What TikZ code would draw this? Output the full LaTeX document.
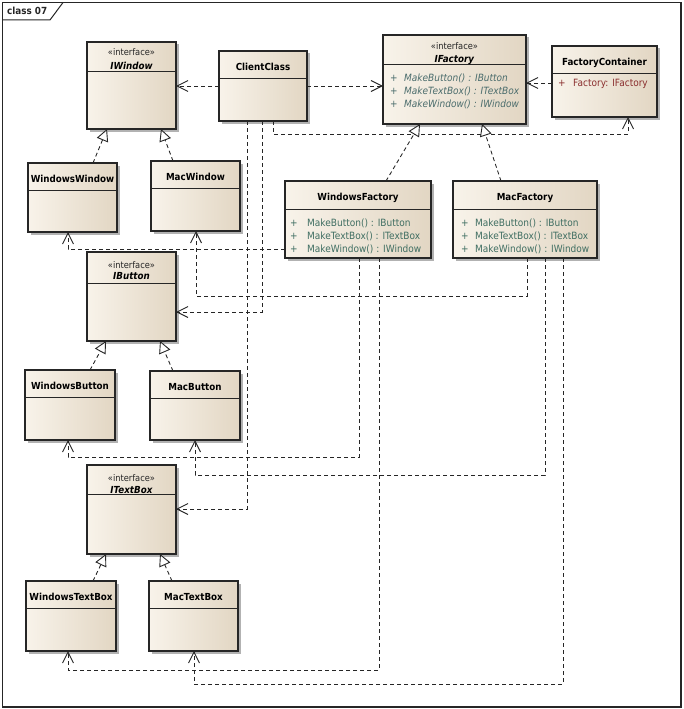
\documentclass[tikz,border=0pt]{standalone}
\usepackage{fontspec}
\setmainfont{DejaVu Sans}[FakeStretch=0.9]
\usetikzlibrary{arrows.meta,shadows,calc}
\definecolor{clsL}{HTML}{F8F3EA}
\definecolor{clsR}{HTML}{E2D6C3}
\definecolor{edge}{HTML}{262626}
\definecolor{opgreen}{HTML}{3F6E62}
\definecolor{opteal}{HTML}{4A6C6C}
\definecolor{attred}{HTML}{8A2E2E}
\newcommand\umlclass[6]{%
  \node[cls, minimum width={#4-#2}, minimum height={#5-#3}] (#1) at (#2,#3) {};
  \draw[sepline] (#2,#6) -- (#4,#6);}
\begin{document}
\begin{tikzpicture}[x=1pt,y=-1pt,
  cls/.style={draw=edge, line width=1.1pt, left color=clsL, right color=clsR,
    drop shadow={shadow xshift=2.5pt,shadow yshift=-2.5pt,opacity=0.3,fill=black},
    inner sep=0pt, outer sep=0pt, anchor=north west},
  sepline/.style={draw=edge, line width=1pt},
  nm/.style={font=\fontsize{9.7}{11}\selectfont\bfseries, inner sep=0pt, anchor=base},
  stereo/.style={font=\fontsize{9.2}{11}\selectfont, inner sep=0pt, anchor=base, text=black!85},
  op/.style={font=\fontsize{10}{12}\selectfont, inner sep=0pt, anchor=base west},
  dep/.style={draw=edge, line width=0.9pt, dash pattern=on 4pt off 3pt,
    -{Straight Barb[length=11pt,width=11pt,line width=0.9pt]}},
  real/.style={draw=edge, line width=0.9pt, dash pattern=on 4pt off 3pt,
    -{Triangle[open,fill=white,length=12pt,width=12pt,line width=0.9pt]}}
]
\useasboundingbox (0,0) rectangle (683,709);
% frame
\draw[line width=1.3pt, draw=black!85] (2.5,2.5) rectangle (681,707);
\draw[line width=1pt, draw=black!85] (2.5,20) -- (50,20) -- (63,2.5);
\node[font=\fontsize{9.8}{11}\selectfont\bfseries, inner sep=0pt, anchor=base west, text=black!85] (frame) at (7,14.5) {class 07};

% classes
\umlclass{IWindow}{87}{42}{176}{129}{71}
\node[stereo] (sIWindow) at (131.5,56) {«interface»};
\node[nm] (nIWindow) at (131.5,69.5) {\textit{IWindow}};

\umlclass{ClientClass}{219}{51}{307}{121}{78}
\node[nm] (nClientClass) at (263,70.5) {ClientClass};

\umlclass{IFactory}{383}{35}{526}{124}{65}
\node[stereo] (sIFactory) at (454.5,49) {«interface»};
\node[nm] (nIFactory) at (454.5,62.5) {\textit{IFactory}};
\node[op, text=opteal] (p1IFactory) at (390,81.5) {+};
\node[op, text=opteal] (o1IFactory) at (404,81.5) {\textit{MakeButton() : IButton}};
\node[op, text=opteal] (p2IFactory) at (390,94.5) {+};
\node[op, text=opteal] (o2IFactory) at (404,94.5) {\textit{MakeTextBox() : ITextBox}};
\node[op, text=opteal] (p3IFactory) at (390,107) {+};
\node[op, text=opteal] (o3IFactory) at (404,107) {\textit{MakeWindow() : IWindow}};

\umlclass{FactoryContainer}{552}{46}{657}{117}{73}
\node[nm] (nFactoryContainer) at (604.5,65.5) {FactoryContainer};
\node[op, text=attred] (pFC) at (558,86.5) {+};
\node[op, text=attred] (aFC) at (573,86.5) {Factory: IFactory};

\umlclass{WindowsWindow}{28}{163}{117}{232}{190}
\node[nm] (nWindowsWindow) at (72.5,182.5) {WindowsWindow};

\umlclass{MacWindow}{151}{161}{240}{231}{188}
\node[nm] (nMacWindow) at (195.5,180.5) {MacWindow};

\umlclass{WindowsFactory}{285}{181}{431}{258}{209}
\node[nm] (nWindowsFactory) at (358,200.5) {WindowsFactory};
\node[op, text=opgreen] (p1WF) at (290,226.5) {+};
\node[op, text=opgreen] (o1WF) at (307,226.5) {MakeButton() : IButton};
\node[op, text=opgreen] (p2WF) at (290,239.5) {+};
\node[op, text=opgreen] (o2WF) at (307,239.5) {MakeTextBox() : ITextBox};
\node[op, text=opgreen] (p3WF) at (290,252.5) {+};
\node[op, text=opgreen] (o3WF) at (307,252.5) {MakeWindow() : IWindow};

\umlclass{MacFactory}{453}{181}{597}{258}{209}
\node[nm] (nMacFactory) at (525,200.5) {MacFactory};
\node[op, text=opgreen] (p1MF) at (461,226.5) {+};
\node[op, text=opgreen] (o1MF) at (475,226.5) {MakeButton() : IButton};
\node[op, text=opgreen] (p2MF) at (461,239.5) {+};
\node[op, text=opgreen] (o2MF) at (475,239.5) {MakeTextBox() : ITextBox};
\node[op, text=opgreen] (p3MF) at (461,252.5) {+};
\node[op, text=opgreen] (o3MF) at (475,252.5) {MakeWindow() : IWindow};

\umlclass{IButton}{87}{252}{176}{341}{283}
\node[stereo] (sIButton) at (131.5,268) {«interface»};
\node[nm] (nIButton) at (131.5,279.5) {\textit{IButton}};

\umlclass{WindowsButton}{25}{370}{115}{440}{397}
\node[nm] (nWindowsButton) at (70,389.5) {WindowsButton};

\umlclass{MacButton}{150}{371}{240}{440}{398}
\node[nm] (nMacButton) at (195,390.5) {MacButton};

\umlclass{ITextBox}{87}{465}{176}{554}{494}
\node[stereo] (sITextBox) at (131.5,481) {«interface»};
\node[nm] (nITextBox) at (131.5,493.5) {\textit{ITextBox}};

\umlclass{WindowsTextBox}{26}{581}{116}{651}{608}
\node[nm] (nWindowsTextBox) at (71,600.5) {WindowsTextBox};

\umlclass{MacTextBox}{149}{581}{238}{651}{608}
\node[nm] (nMacTextBox) at (193.5,600.5) {MacTextBox};

% dependencies from ClientClass
\draw[dep] (ClientClass.west) -- (IWindow.east |- ClientClass.west);
\draw[dep] (ClientClass.east) -- (IFactory.west |- ClientClass.east);
\draw[dep] (FactoryContainer.west |- 0,83) -- (IFactory.east |- 0,83);
\draw[dep] (ClientClass.south -| 273,0) -- (273,134) -- (628,134) -- (FactoryContainer.south -| 628,0);
\draw[dep] (ClientClass.south -| 262,0) -- (262,312) -- (IButton.east |- 0,312);
\draw[dep] (ClientClass.south -| 247,0) -- (247,509) -- (ITextBox.east |- 0,509);

% realizations
\draw[real] (WindowsFactory.north -| 386,0) -- (IFactory.south -| 420,0);
\draw[real] (MacFactory.north -| 501,0) -- (IFactory.south -| 482,0);
\draw[real] (WindowsWindow.north -| 93,0) -- (IWindow.south -| 107,0);
\draw[real] (MacWindow.north -| 173,0) -- (IWindow.south -| 161,0);
\draw[real] (WindowsButton.north -| 90,0) -- (IButton.south -| 106,0);
\draw[real] (MacButton.north -| 173,0) -- (IButton.south -| 160,0);
\draw[real] (WindowsTextBox.north -| 93,0) -- (ITextBox.south -| 106,0);
\draw[real] (MacTextBox.north -| 172,0) -- (ITextBox.south -| 160,0);

% factory products
\draw[dep] (WindowsFactory.west |- 0,249) -- (68,249) -- (WindowsWindow.south -| 68,0);
\draw[dep] (MacFactory.south -| 527,0) -- (527,296) -- (196,296) -- (MacWindow.south -| 196,0);
\draw[dep] (WindowsFactory.south -| 359,0) -- (359,457) -- (68,457) -- (WindowsButton.south -| 68,0);
\draw[dep] (MacFactory.south -| 545,0) -- (545,475) -- (195,475) -- (MacButton.south -| 195,0);
\draw[dep] (WindowsFactory.south -| 379,0) -- (379,670) -- (68,670) -- (WindowsTextBox.south -| 68,0);
\draw[dep] (MacFactory.south -| 563,0) -- (563,684) -- (194,684) -- (MacTextBox.south -| 194,0);
\end{tikzpicture}
\end{document}
